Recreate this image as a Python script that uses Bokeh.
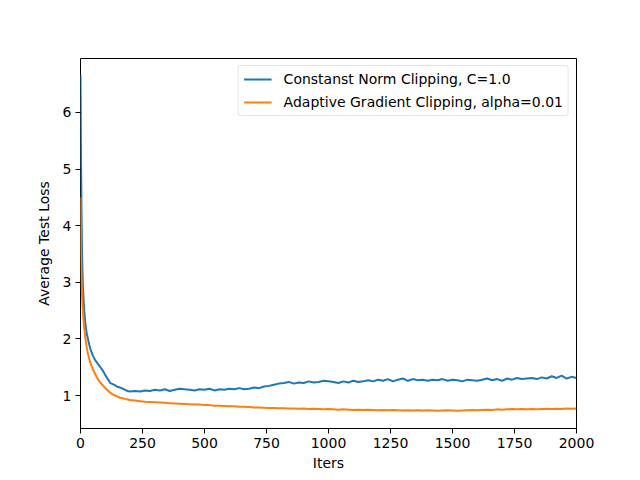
from bokeh.plotting import figure
from bokeh.models import Range1d, FixedTicker, Legend, LegendItem
from bokeh.embed import file_html
from bokeh.resources import INLINE

# ---- data ----
iters_early = [0, 2, 4, 6, 8, 10, 15, 20, 25, 30, 35, 40, 50, 60, 70, 80, 90,
               100, 110, 120, 130, 140, 150, 160, 170, 180, 190, 200]
iters_late = list(range(220, 2001, 20))
iters = iters_early + iters_late

const_norm = [6.66, 5.2, 4.3, 3.6, 3.2, 2.9, 2.5, 2.25, 2.1, 2.0, 1.9, 1.82, 1.70, 1.62,
              1.56, 1.50, 1.44, 1.36, 1.29, 1.22, 1.20, 1.18, 1.15, 1.14, 1.12, 1.10, 1.08, 1.07,
              1.08, 1.07, 1.09, 1.08, 1.10, 1.09, 1.11, 1.08, 1.10, 1.12,
              1.11, 1.10, 1.09, 1.11, 1.10, 1.12, 1.09, 1.11, 1.10, 1.12,
              1.11, 1.13, 1.11, 1.12, 1.14, 1.13, 1.16, 1.17, 1.19, 1.21,
              1.22, 1.24, 1.21, 1.23, 1.22, 1.25, 1.23, 1.24, 1.26, 1.25,
              1.24, 1.22, 1.25, 1.23, 1.26, 1.24, 1.25, 1.27, 1.25, 1.28,
              1.26, 1.29, 1.25, 1.28, 1.30, 1.26, 1.29, 1.27, 1.28, 1.26,
              1.28, 1.27, 1.29, 1.26, 1.28, 1.27, 1.25, 1.28, 1.27, 1.26,
              1.28, 1.30, 1.27, 1.29, 1.26, 1.30, 1.28, 1.31, 1.29, 1.30,
              1.31, 1.29, 1.32, 1.30, 1.34, 1.31, 1.35, 1.30, 1.33, 1.31]

adaptive = [4.5, 3.6, 3.1, 2.8, 2.6, 2.45, 2.2, 2.0, 1.85, 1.74, 1.65, 1.57, 1.46, 1.37,
            1.29, 1.23, 1.18, 1.13, 1.09, 1.05, 1.02, 1.00, 0.98, 0.96, 0.95, 0.94, 0.93, 0.92,
            0.91, 0.90, 0.89, 0.885, 0.88, 0.875, 0.87, 0.865, 0.86, 0.855,
            0.85, 0.845, 0.84, 0.84, 0.83, 0.83, 0.82, 0.82, 0.815, 0.81,
            0.81, 0.80, 0.80, 0.795, 0.79, 0.79, 0.785, 0.78, 0.78, 0.775,
            0.775, 0.77, 0.77, 0.765, 0.77, 0.76, 0.765, 0.76, 0.755, 0.76,
            0.755, 0.75, 0.755, 0.75, 0.745, 0.75, 0.745, 0.75, 0.745, 0.74,
            0.745, 0.74, 0.745, 0.74, 0.735, 0.74, 0.735, 0.74, 0.735, 0.74,
            0.735, 0.73, 0.735, 0.74, 0.735, 0.73, 0.735, 0.74, 0.745, 0.74,
            0.745, 0.75, 0.745, 0.755, 0.75, 0.755, 0.76, 0.755, 0.76, 0.755,
            0.76, 0.755, 0.76, 0.765, 0.76, 0.765, 0.76, 0.77, 0.765, 0.77]

x_ticks = [0, 250, 500, 750, 1000, 1250, 1500, 1750, 2000]
y_ticks = [1, 2, 3, 4, 5, 6]
labels = ["Constanst Norm Clipping, C=1.0", "Adaptive Gradient Clipping, alpha=0.01"]
colors = ["#1f77b4", "#ff7f0e"]

FONT = "DejaVu Sans"

p = figure(width=632, height=472, frame_width=496, frame_height=370,
           min_border_left=80, min_border_right=56, min_border_top=58, min_border_bottom=44,
           output_backend="svg", toolbar_location=None,
           x_range=Range1d(0, 2000), y_range=Range1d(0.417, 6.954))

p.grid.visible = False
p.outline_line_color = "black"
p.outline_line_width = 1
p.outline_line_alpha = 1

for ax in (p.xaxis, p.yaxis):
    ax.axis_line_color = None
    ax.major_tick_out = 5
    ax.major_tick_in = 0
    ax.minor_tick_out = 0
    ax.minor_tick_in = 0
    ax.major_tick_line_color = "black"
    ax.major_label_text_font = FONT
    ax.major_label_text_font_size = "14px"
    ax.major_label_text_color = "black"
    ax.axis_label_text_font = FONT
    ax.axis_label_text_font_size = "14px"
    ax.axis_label_text_font_style = "normal"
    ax.axis_label_text_color = "black"

p.xaxis.ticker = FixedTicker(ticks=x_ticks)
p.yaxis.ticker = FixedTicker(ticks=y_ticks)
p.xaxis.axis_label = "Iters"
p.yaxis.axis_label = "Average Test Loss"
p.xaxis.major_label_standoff = 4
p.yaxis.major_label_standoff = 4
p.xaxis.axis_label_standoff = 4
p.yaxis.axis_label_standoff = 8

r1 = p.line(iters, const_norm, line_color=colors[0], line_width=2)
r2 = p.line(iters, adaptive, line_color=colors[1], line_width=2)

legend = Legend(items=[LegendItem(label=labels[0], renderers=[r1]),
                       LegendItem(label=labels[1], renderers=[r2])],
                location="top_right")
legend.label_text_font = FONT
legend.label_text_font_size = "14px"
legend.label_text_color = "black"
legend.glyph_width = 28
legend.glyph_height = 14
legend.label_standoff = 12
legend.label_height = 14
legend.spacing = 7
legend.padding = 5
legend.margin = 7
legend.border_line_color = "#cccccc"
legend.border_line_width = 1
legend.border_radius = 3
legend.background_fill_alpha = 0.8
p.add_layout(legend)

open("out.html", "w").write(file_html(p, INLINE))
